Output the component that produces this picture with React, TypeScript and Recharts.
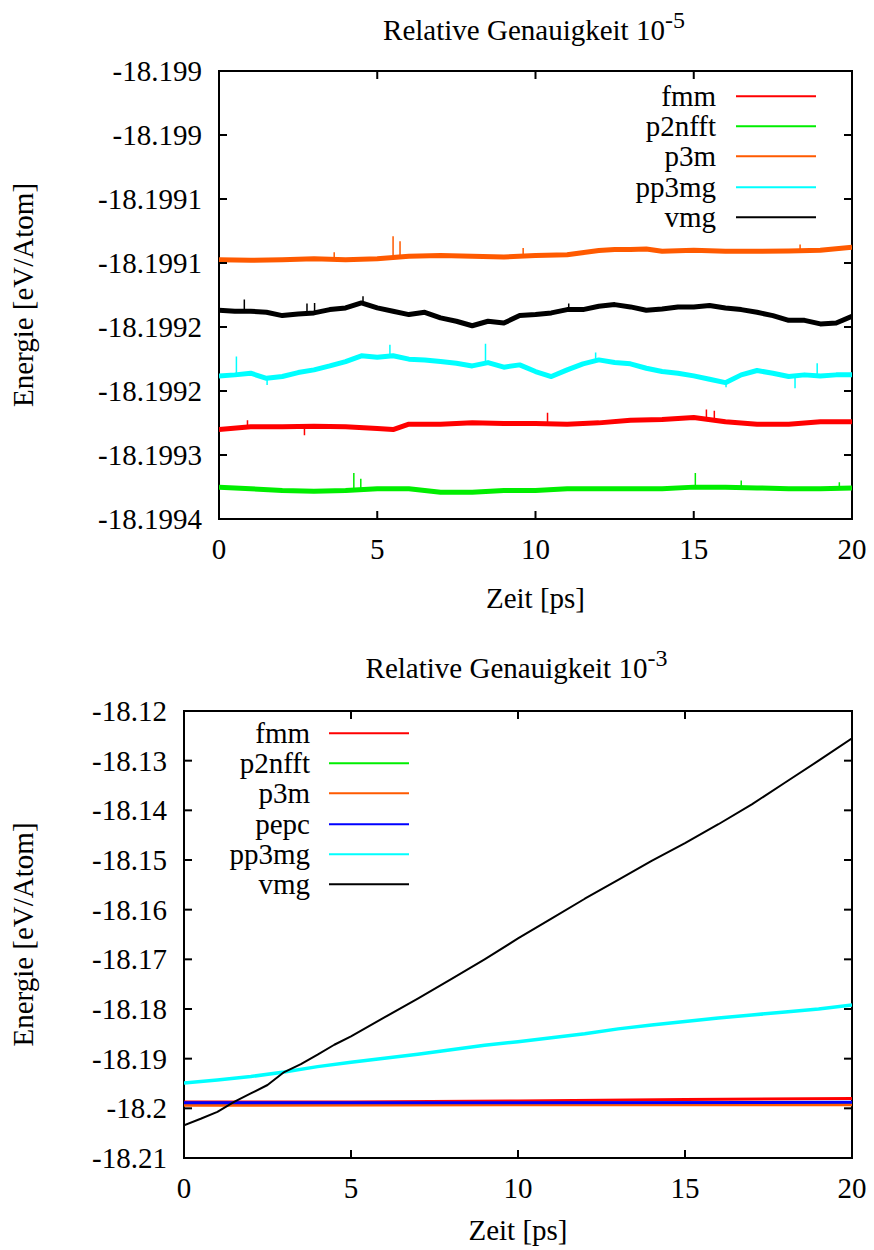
import React from 'react';
import { LineChart, Line, XAxis, YAxis, ReferenceArea, Legend, Label } from 'recharts';

const FONT = "'Liberation Serif', Tinos, 'Nimbus Roman', FreeSerif, 'Times New Roman', Times, 'DejaVu Serif', 'Noto Serif', serif";
const FS = 29;
const TL = 8;

// ---------- shared axis data ----------
const timeTicks = [0, 5, 10, 15, 20];
const timeTickLabels = ['0', '5', '10', '15', '20'];

// ---------- chart 1 : Relative Genauigkeit 10^-5 ----------
const yTicks5 = [-18.199, -18.19905, -18.1991, -18.19915, -18.1992, -18.19925, -18.1993, -18.19935];
const yTickLabels5 = ['-18.199', '-18.199', '-18.1991', '-18.1991', '-18.1992', '-18.1992', '-18.1993', '-18.1994'];
const names5 = ['fmm', 'p2nfft', 'p3m', 'pp3mg', 'vmg'];
const colors5 = ['#ff0000', '#00ee00', '#ff5a00', '#00ffff', '#000000'];

const fmm5 = [[0, -18.1992801], [1, -18.199278], [2, -18.199278], [3, -18.1992775], [4, -18.199278], [5, -18.1992793], [5.5, -18.1992801], [6, -18.1992759], [7, -18.1992759], [8, -18.1992749], [9, -18.1992754], [10, -18.1992754], [11, -18.1992759], [12, -18.1992749], [13, -18.1992728], [14, -18.1992723], [15, -18.1992707], [16, -18.1992741], [17, -18.1992759], [18, -18.1992759], [19, -18.1992741], [20, -18.1992741]];
const fmm5Spikes = [[0.9, -18.1992728, -18.199278], [2.7, -18.1992846, -18.199278], [10.38, -18.199267, -18.1992754], [15.4, -18.1992644, -18.1992707], [15.65, -18.1992655, -18.1992715]];

const p2nfft5 = [[0, -18.1993251], [1, -18.1993264], [2, -18.1993278], [3, -18.1993283], [4, -18.1993278], [5, -18.1993264], [6, -18.1993264], [7, -18.1993291], [8, -18.1993291], [9, -18.1993278], [10, -18.1993278], [11, -18.1993264], [12, -18.1993264], [13, -18.1993264], [14, -18.1993264], [15, -18.1993251], [16, -18.1993251], [17, -18.1993257], [18, -18.1993264], [19, -18.1993264], [20, -18.1993257]];
const p2nfft5Spikes = [[4.26, -18.1993141, -18.1993278], [4.48, -18.1993186, -18.1993278], [15.05, -18.1993141, -18.1993251], [16.5, -18.1993199, -18.1993251], [19.6, -18.1993212, -18.1993257]];

const p3m5 = [[0, -18.1991474], [1, -18.1991479], [2, -18.1991474], [3, -18.1991466], [4, -18.1991474], [5, -18.1991466], [6, -18.1991448], [7, -18.1991442], [8, -18.1991448], [9, -18.1991453], [10, -18.1991442], [11, -18.1991435], [12, -18.1991403], [12.5, -18.1991395], [13, -18.1991395], [13.5, -18.199139], [14, -18.1991408], [15, -18.1991401], [16, -18.1991408], [17, -18.1991408], [18, -18.1991406], [19, -18.1991401], [20, -18.1991377]];
const p3m5Spikes = [[3.64, -18.1991416, -18.1991469], [5.5, -18.1991291, -18.1991461], [5.72, -18.199133, -18.1991456], [9.61, -18.1991382, -18.199145], [18.36, -18.1991356, -18.1991406]];

const pp3mg5 = [[0, -18.1992382], [0.5, -18.1992374], [1, -18.1992361], [1.5, -18.1992401], [2, -18.1992387], [2.5, -18.1992356], [3, -18.1992335], [3.5, -18.1992304], [4, -18.199227], [4.5, -18.1992225], [5, -18.1992236], [5.5, -18.1992225], [6, -18.1992251], [6.5, -18.1992257], [7, -18.199227], [7.5, -18.1992283], [8, -18.1992304], [8.5, -18.1992278], [9, -18.1992314], [9.5, -18.1992296], [10, -18.1992348], [10.5, -18.1992387], [11, -18.1992335], [11.5, -18.1992288], [12, -18.1992257], [12.5, -18.1992278], [13, -18.1992288], [13.5, -18.1992322], [14, -18.1992348], [14.5, -18.1992361], [15, -18.1992382], [15.5, -18.1992408], [16, -18.1992435], [16.5, -18.1992374], [17, -18.199234], [17.5, -18.1992361], [18, -18.1992387], [18.5, -18.1992374], [19, -18.1992382], [19.5, -18.1992374], [20, -18.1992374]];
const pp3mg5Spikes = [[0.55, -18.199223, -18.1992374], [1.52, -18.1992453, -18.1992401], [5.4, -18.1992139, -18.1992225], [8.42, -18.1992131, -18.1992283], [11.9, -18.1992199, -18.1992257], [16.02, -18.1992471, -18.1992427], [18.2, -18.1992479, -18.1992387], [18.9, -18.1992283, -18.1992374]];

const vmg5 = [[0, -18.1991869], [0.5, -18.1991877], [1, -18.1991877], [1.5, -18.1991885], [2, -18.1991911], [2.5, -18.1991898], [3, -18.199189], [3.5, -18.1991864], [4, -18.1991851], [4.5, -18.1991812], [5, -18.1991851], [5.5, -18.1991877], [6, -18.1991903], [6.5, -18.1991885], [7, -18.1991929], [7.5, -18.1991955], [8, -18.199199], [8.5, -18.1991955], [9, -18.1991969], [9.5, -18.1991911], [10, -18.1991903], [10.5, -18.199189], [11, -18.1991864], [11.5, -18.1991864], [12, -18.1991838], [12.5, -18.1991825], [13, -18.1991843], [13.5, -18.1991869], [14, -18.1991859], [14.5, -18.1991843], [15, -18.1991843], [15.5, -18.1991832], [16, -18.1991851], [16.5, -18.1991864], [17, -18.1991885], [17.5, -18.1991911], [18, -18.1991948], [18.5, -18.1991948], [19, -18.1991976], [19.5, -18.1991969], [20, -18.1991916]];
const vmg5Spikes = [[0.8, -18.1991785, -18.1991877], [2.78, -18.1991817, -18.1991895], [3.02, -18.1991812, -18.199189], [4.55, -18.1991759, -18.1991825], [11.05, -18.1991817, -18.1991864]];

// ---------- chart 2 : Relative Genauigkeit 10^-3 ----------
const yTicks3 = [-18.12, -18.13, -18.14, -18.15, -18.16, -18.17, -18.18, -18.19, -18.2, -18.21];
const yTickLabels3 = ['-18.12', '-18.13', '-18.14', '-18.15', '-18.16', '-18.17', '-18.18', '-18.19', '-18.2', '-18.21'];
const names3 = ['fmm', 'p2nfft', 'p3m', 'pepc', 'pp3mg', 'vmg'];
const colors3 = ['#ff0000', '#00ee00', '#ff5a00', '#0000ff', '#00ffff', '#000000'];

const fmm3 = [[0, -18.1987], [5, -18.1987], [10, -18.1985], [15, -18.1982], [20, -18.198]];
const p2nfft3 = [[0, -18.1991], [10, -18.1991], [20, -18.1991]];
const p3m3 = [[0, -18.1994], [10, -18.1993], [20, -18.1993]];
const pepc3 = [[0, -18.1989], [10, -18.1989], [20, -18.1988]];
const pp3mg3 = [[0, -18.1949], [1, -18.1943], [2, -18.1936], [3, -18.1927], [4, -18.1916], [5, -18.1907], [6, -18.1899], [7, -18.1891], [8, -18.1882], [9, -18.1873], [10, -18.1866], [11, -18.1858], [12, -18.185], [13, -18.184], [14, -18.1832], [15, -18.1825], [16, -18.1818], [17, -18.1812], [18, -18.1806], [19, -18.18], [20, -18.1792]];
const vmg3 = [[0, -18.2034], [0.5, -18.2021], [1, -18.2007], [1.5, -18.1987], [2, -18.197], [2.5, -18.1953], [3, -18.1927], [3.5, -18.1911], [4, -18.1892], [4.5, -18.1872], [5, -18.1855], [6, -18.1817], [7, -18.1779], [8, -18.174], [9, -18.17], [10, -18.1658], [11, -18.1618], [12, -18.1578], [13, -18.154], [14, -18.1502], [15, -18.1466], [16, -18.1428], [17, -18.1388], [18, -18.1344], [19, -18.13], [20, -18.1255]];

type Pt = { t: number; e: number | null };
function build(base: number[][]): Pt[] {
  return base.map(([t, e]) => ({ t, e }));
}
function buildSpikes(spikes: number[][]): Pt[] {
  const pts: Pt[] = [];
  spikes.forEach(([t, peak, b]) => {
    pts.push({ t, e: b }, { t, e: peak }, { t: t + 0.001, e: null });
  });
  return pts;
}

type SeriesDef = { name: string; color: string; data: Pt[]; spikes?: Pt[]; width: number };

type ChartProps = {
  top: number;
  height: number;
  plotLeft: number;
  plotRight: number;
  plotTop: number;
  plotBottom: number;
  yTicks: number[];
  yLabels: string[];
  series: SeriesDef[];
  exp: string;
  legendTextRight: number;
  legendLineLeft: number;
  legendFirstRow: number;
  titleBaseline: number;
  xLabelOffset: number;
};

const W = 874;
const YW = 10;
const XH = 30;
const ROW = 30.3;

function Chart(p: ChartProps) {
  const plotW = p.plotRight - p.plotLeft;
  const plotH = p.plotBottom - p.plotTop;
  const yMin = Math.min(...p.yTicks);
  const yMax = Math.max(...p.yTicks);

  const YTick = (props: any) => {
    const { x, y, payload } = props;
    const i = p.yTicks.findIndex((v) => Math.abs(v - payload.value) < 1e-9);
    return (
      <g>
        <line x1={x} y1={y} x2={x + TL} y2={y} stroke="#000" strokeWidth={2} />
        <line x1={x + plotW - TL} y1={y} x2={x + plotW} y2={y} stroke="#000" strokeWidth={2} />
        <text x={x - 17} y={y} dy={10} textAnchor="end" fontFamily={FONT} fontSize={FS} fill="#000">
          {p.yLabels[i]}
        </text>
      </g>
    );
  };

  const XTick = (props: any) => {
    const { x, y, payload } = props;
    const i = timeTicks.findIndex((v) => Math.abs(v - payload.value) < 1e-9);
    return (
      <g>
        <line x1={x} y1={y} x2={x} y2={y - TL} stroke="#000" strokeWidth={2} />
        <line x1={x} y1={y - plotH} x2={x} y2={y - plotH + TL} stroke="#000" strokeWidth={2} />
        <text x={x} y={y + 40} textAnchor="middle" fontFamily={FONT} fontSize={FS} fill="#000">
          {timeTickLabels[i]}
        </text>
      </g>
    );
  };

  const legendContent = () => (
    <div style={{ position: 'relative', width: W, fontFamily: FONT, fontSize: FS, lineHeight: ROW + 'px', color: '#000' }}>
      {p.series.map((s) => (
        <div key={s.name} style={{ position: 'relative', height: ROW }}>
          <span style={{ position: 'absolute', right: W - p.legendTextRight, top: 0, whiteSpace: 'nowrap' }}>{s.name}</span>
          <svg style={{ position: 'absolute', left: p.legendLineLeft, top: 0 }} width={80} height={ROW}>
            <line x1={0} x2={80} y1={ROW / 2} y2={ROW / 2} stroke={s.color} strokeWidth={2} />
          </svg>
        </div>
      ))}
    </div>
  );

  const centerX = (p.plotLeft + p.plotRight) / 2;

  return (
    <div style={{ position: 'absolute', left: 0, top: p.top, width: W, height: p.height }}>
      <div
        style={{
          position: 'absolute',
          left: centerX - 1.5 - 300,
          width: 600,
          top: p.titleBaseline - 24.3,
          textAlign: 'center',
          fontFamily: FONT,
          fontSize: FS,
          lineHeight: FS + 'px',
          color: '#000',
          whiteSpace: 'nowrap',
          zIndex: 2,
        }}
      >
        Relative Genauigkeit 10
        <span style={{ fontSize: 24, position: 'relative', top: -12 }}>{p.exp}</span>
      </div>
      <LineChart
        width={W}
        height={p.height}
        margin={{ top: p.plotTop, right: W - p.plotRight, left: p.plotLeft - YW, bottom: p.height - p.plotBottom - XH }}
      >
        <XAxis
          dataKey="t"
          type="number"
          domain={[0, 20]}
          ticks={timeTicks}
          interval={0}
          allowDataOverflow
          height={XH}
          tickSize={0}
          tickMargin={0}
          tickLine={false}
          axisLine={false}
          tick={XTick}
        >
          <Label
            content={(props: any) => {
              const vb = props.viewBox || {};
              return (
                <text x={vb.x + vb.width / 2} y={p.plotBottom + p.xLabelOffset} textAnchor="middle" fontFamily={FONT} fontSize={FS} fill="#000">
                  Zeit [ps]
                </text>
              );
            }}
          />
        </XAxis>
        <YAxis
          type="number"
          domain={[yMin, yMax]}
          ticks={p.yTicks}
          interval={0}
          allowDataOverflow
          width={YW}
          tickSize={0}
          tickMargin={0}
          tickLine={false}
          axisLine={false}
          tick={YTick}
        >
          <Label
            content={() => {
              const cy = (p.plotTop + p.plotBottom) / 2;
              return (
                <text x={33} y={cy} transform={`rotate(-90, 33, ${cy})`} textAnchor="middle" fontFamily={FONT} fontSize={FS} fill="#000">
                  Energie [eV/Atom]
                </text>
              );
            }}
          />
        </YAxis>
        {p.series.map((s) => (
          <Line
            key={s.name}
            name={s.name}
            data={s.data}
            dataKey="e"
            type="linear"
            stroke={s.color}
            strokeWidth={s.width}
            strokeLinejoin="round"
            dot={false}
            activeDot={false}
            isAnimationActive={false}
          />
        ))}
        {p.series
          .filter((s) => s.spikes)
          .map((s) => (
            <Line
              key={s.name + '-spk'}
              name={s.name + ' '}
              legendType="none"
              data={s.spikes}
              dataKey="e"
              type="linear"
              stroke={s.color}
              strokeWidth={1.5}
              dot={false}
              activeDot={false}
              connectNulls={false}
              isAnimationActive={false}
            />
          ))}
        <ReferenceArea x1={0} x2={20} y1={yMin} y2={yMax} fill="none" stroke="#000" strokeWidth={2} ifOverflow="visible" />
        <Legend
          layout="vertical"
          align="center"
          verticalAlign="middle"
          wrapperStyle={{ position: 'absolute', left: 0, top: p.legendFirstRow - ROW / 2, width: W, height: ROW * p.series.length }}
          content={legendContent}
        />
      </LineChart>
    </div>
  );
}

const series5: SeriesDef[] = [
  { name: names5[0], color: colors5[0], data: build(fmm5), spikes: buildSpikes(fmm5Spikes), width: 5 },
  { name: names5[1], color: colors5[1], data: build(p2nfft5), spikes: buildSpikes(p2nfft5Spikes), width: 5 },
  { name: names5[2], color: colors5[2], data: build(p3m5), spikes: buildSpikes(p3m5Spikes), width: 5 },
  { name: names5[3], color: colors5[3], data: build(pp3mg5), spikes: buildSpikes(pp3mg5Spikes), width: 5 },
  { name: names5[4], color: colors5[4], data: build(vmg5), spikes: buildSpikes(vmg5Spikes), width: 5 },
];

const series3: SeriesDef[] = [
  { name: names3[0], color: colors3[0], data: build(fmm3), width: 3 },
  { name: names3[1], color: colors3[1], data: build(p2nfft3), width: 3 },
  { name: names3[2], color: colors3[2], data: build(p3m3), width: 3 },
  { name: names3[3], color: colors3[3], data: build(pepc3), width: 3 },
  { name: names3[4], color: colors3[4], data: build(pp3mg3), width: 3.5 },
  { name: names3[5], color: colors3[5], data: build(vmg3), width: 2 },
];

export default function App() {
  return (
    <div style={{ position: 'absolute', left: 0, top: 0, width: W, height: 1250, background: '#fff', overflow: 'hidden' }}>
      <Chart
        top={0}
        height={640}
        plotLeft={219}
        plotRight={852}
        plotTop={71}
        plotBottom={519}
        yTicks={yTicks5}
        yLabels={yTickLabels5}
        series={series5}
        exp="-5"
        legendTextRight={716}
        legendLineLeft={736}
        legendFirstRow={96}
        titleBaseline={40}
        xLabelOffset={89}
      />
      <Chart
        top={640}
        height={610}
        plotLeft={184}
        plotRight={852}
        plotTop={71}
        plotBottom={518}
        yTicks={yTicks3}
        yLabels={yTickLabels3}
        series={series3}
        exp="-3"
        legendTextRight={310}
        legendLineLeft={329}
        legendFirstRow={93}
        titleBaseline={38}
        xLabelOffset={82}
      />
    </div>
  );
}
